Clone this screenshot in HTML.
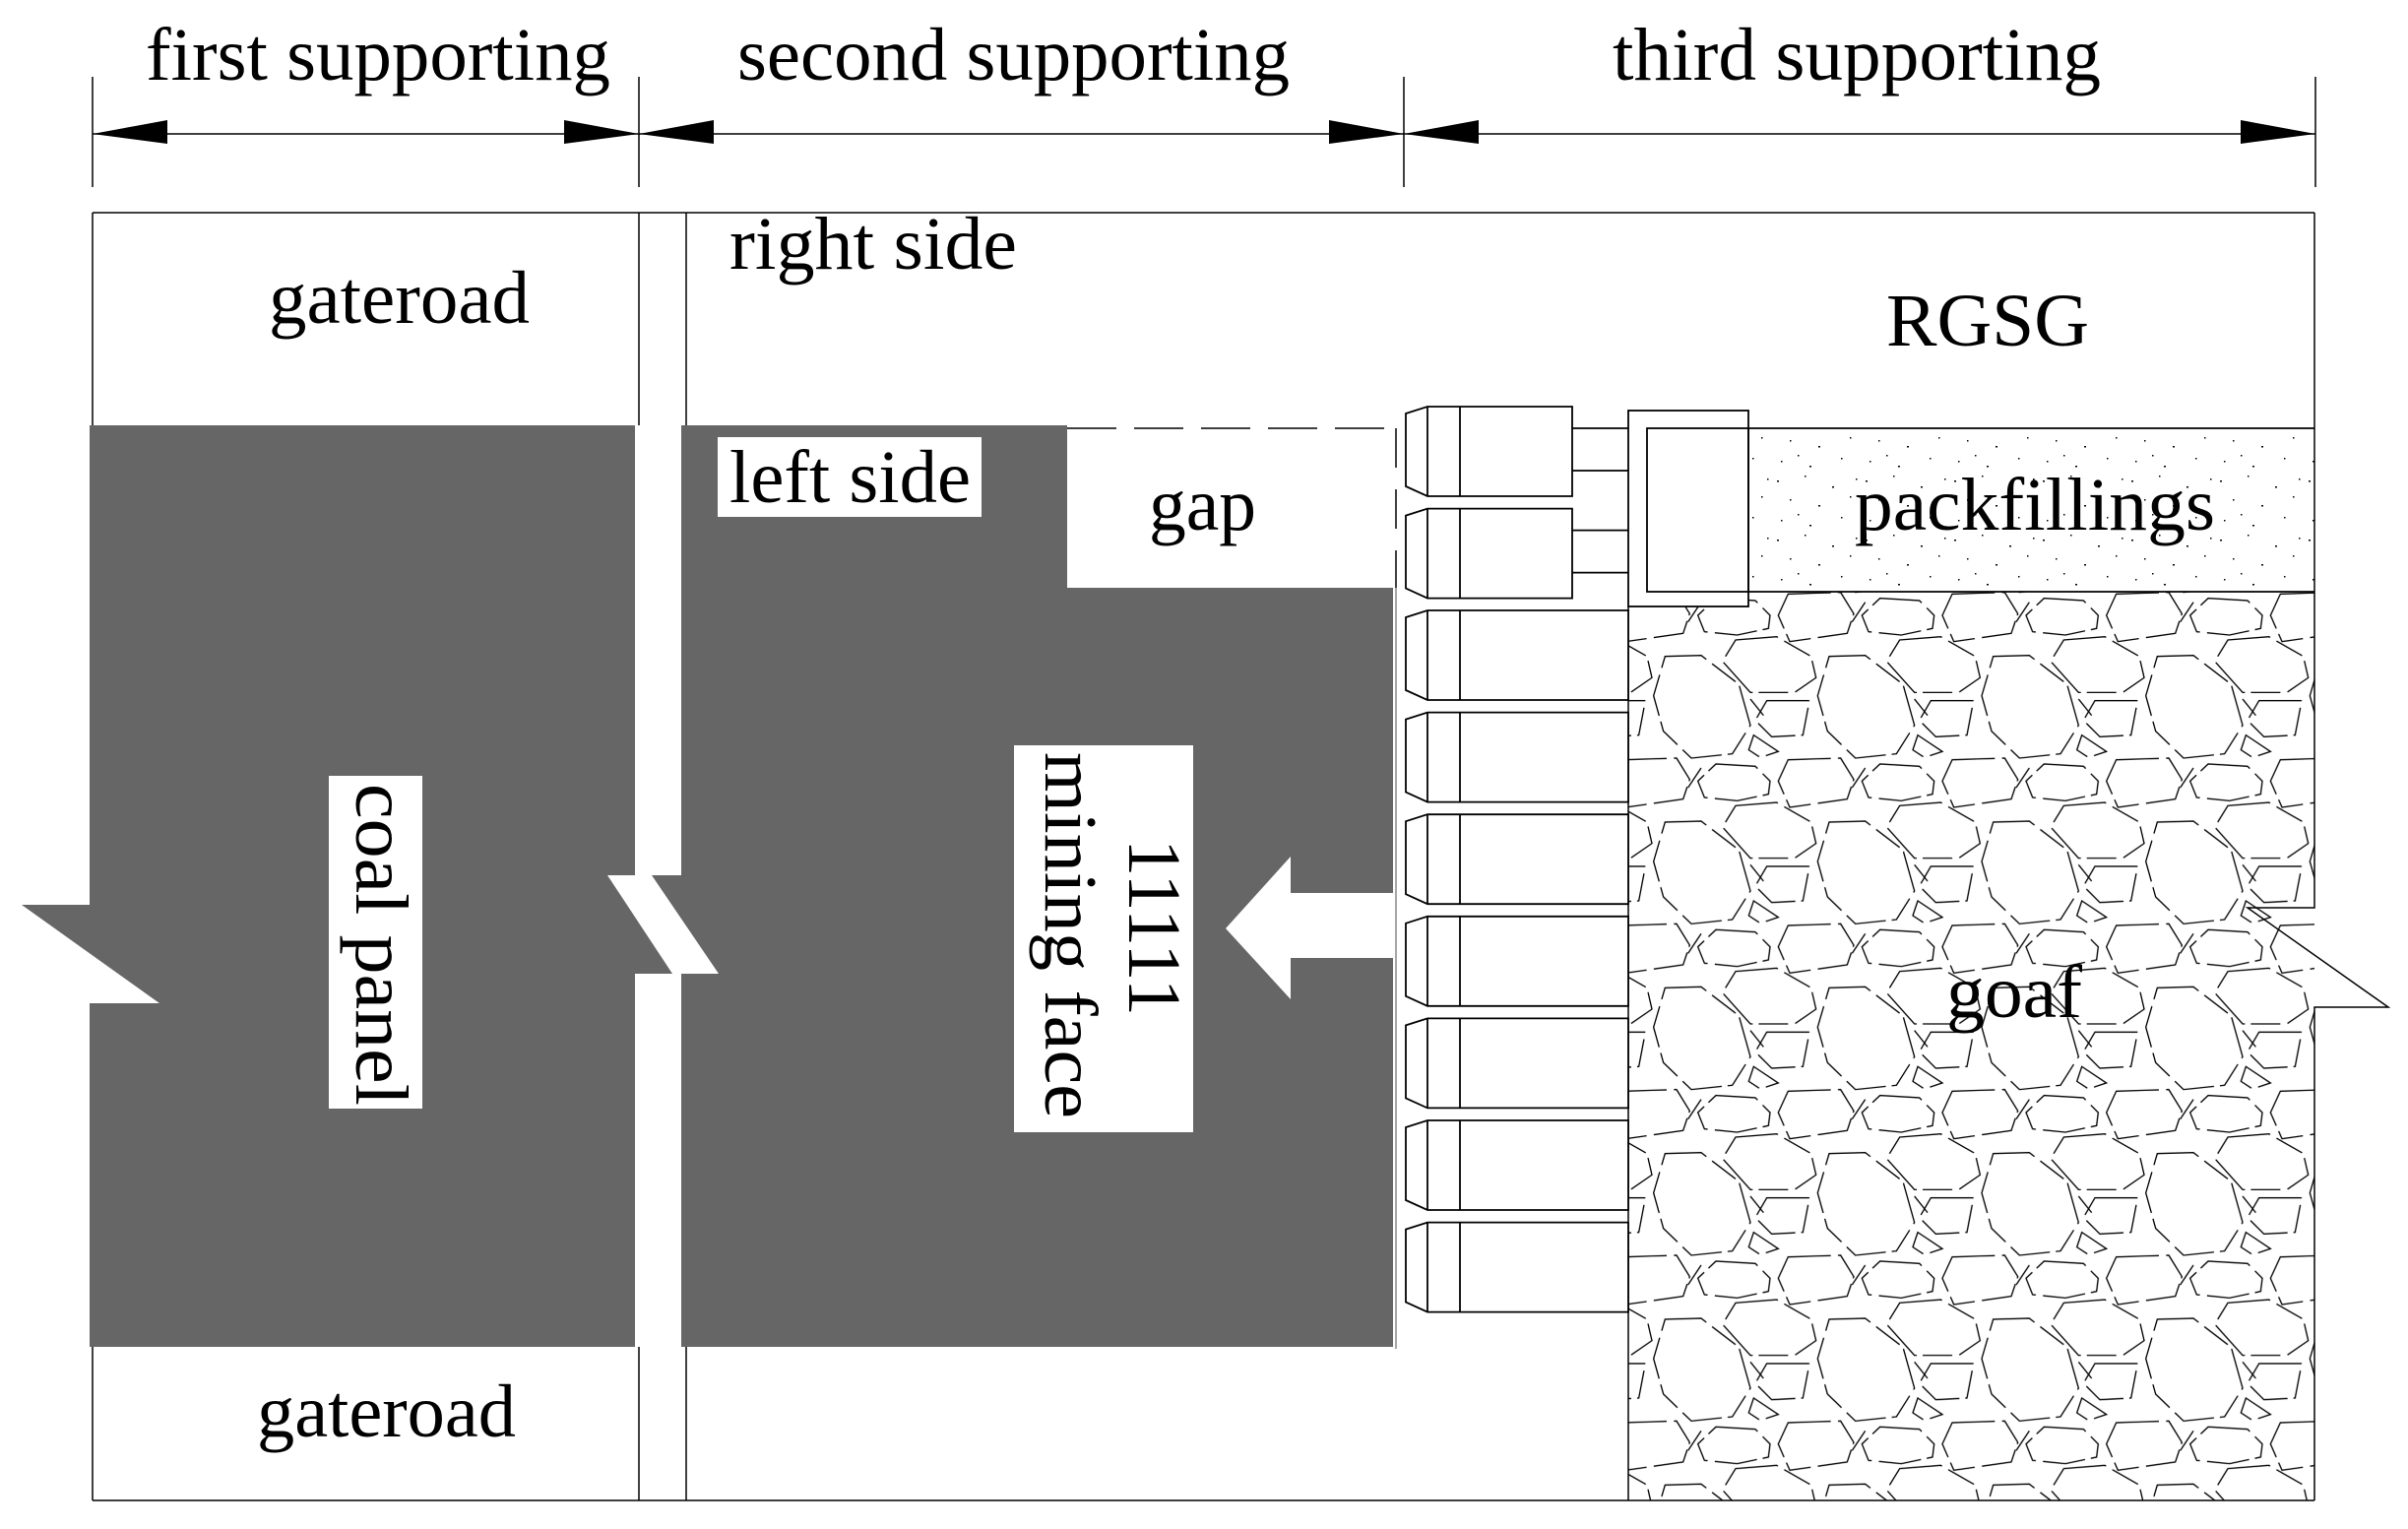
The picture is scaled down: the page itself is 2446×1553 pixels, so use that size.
<!DOCTYPE html>
<html><head><meta charset="utf-8"><style>html,body{margin:0;padding:0;background:#fff}svg{display:block}</style></head>
<body>
<svg xmlns="http://www.w3.org/2000/svg" xmlns:xlink="http://www.w3.org/1999/xlink" width="2446" height="1553" viewBox="0 0 2446 1553">
<defs>
<g id="cells" fill="none" stroke="#000" stroke-width="4" stroke-dasharray="130 22 90 18">
<polygon points="40,20 150,17 265,105 300,230 245,317 120,330 35,248 5,140"/>
<polygon points="255,-30 380,-40 485,20 500,85 435,130 300,130 215,35"/>
<polygon points="350,155 480,155 460,260 365,265 315,215"/>
<polygon points="415,335 575,330 615,395 595,455 420,480 385,400"/>
<polygon points="195,348 315,355 360,400 355,440 260,460 160,450 140,400"/>
<polygon points="310,260 385,310 330,328 295,305"/>
<line x1="150" y1="360" x2="110" y2="420"/>
<line x1="300" y1="150" x2="340" y2="200"/>
</g>
<g id="tile">
<use xlink:href="#cells"/>
<use xlink:href="#cells" x="500"/><use xlink:href="#cells" x="-500"/>
<use xlink:href="#cells" y="505"/><use xlink:href="#cells" y="-505"/>
<use xlink:href="#cells" x="500" y="505"/><use xlink:href="#cells" x="-500" y="505"/>
<use xlink:href="#cells" x="500" y="-505"/><use xlink:href="#cells" x="-500" y="-505"/>
</g>
<pattern id="goaf" patternUnits="userSpaceOnUse" x="1678" y="660" width="166.67" height="168.33">
<g transform="scale(0.33333)"><use xlink:href="#tile"/></g>
</pattern>
<pattern id="dots" patternUnits="userSpaceOnUse" width="90" height="60">
<g fill="#000">
<rect x="5" y="8" width="2" height="1.5"/><rect x="33" y="3" width="1.5" height="1.5"/><rect x="61" y="14" width="2" height="1.5"/>
<rect x="18" y="27" width="1.5" height="1.5"/><rect x="47" y="33" width="2" height="1.5"/><rect x="79" y="24" width="1.5" height="1.5"/>
<rect x="9" y="48" width="1.5" height="1.5"/><rect x="38" y="53" width="2" height="1.5"/><rect x="70" y="45" width="1.5" height="1.5"/>
<rect x="85" y="6" width="1.5" height="1.5"/><rect x="26" y="42" width="1.5" height="1.5"/>
</g>
</pattern>
</defs>

<g font-family="'Liberation Serif', serif" font-size="76" fill="#000">
<text x="148" y="81" textLength="472" lengthAdjust="spacingAndGlyphs">first supporting</text>
<text x="749" y="81" textLength="561" lengthAdjust="spacingAndGlyphs">second supporting</text>
<text x="1638" y="81" textLength="496" lengthAdjust="spacingAndGlyphs">third supporting</text>
</g>

<g stroke="#000" stroke-width="1.5">
<line x1="94" y1="136" x2="2352" y2="136"/>
<line x1="94" y1="78" x2="94" y2="190"/>
<line x1="649" y1="78" x2="649" y2="190"/>
<line x1="1426" y1="78" x2="1426" y2="190"/>
<line x1="2352" y1="78" x2="2352" y2="190"/>
</g>
<g fill="#000">
<polygon points="94,136 170,122 170,146"/>
<polygon points="649,136 573,122 573,146"/>
<polygon points="649,136 725,122 725,146"/>
<polygon points="1426,136 1350,122 1350,146"/>
<polygon points="1426,136 1502,122 1502,146"/>
<polygon points="2352,136 2276,122 2276,146"/>
</g>

<rect x="1654" y="601" width="697" height="923" fill="url(#goaf)"/>
<rect x="1776" y="435" width="575" height="166" fill="#fff"/>
<rect x="1776" y="435" width="575" height="166" fill="url(#dots)"/>
<rect x="1654" y="417" width="122" height="199" fill="#fff"/>

<g stroke="#000" stroke-width="1.5" fill="none">
<line x1="94" y1="216" x2="2351" y2="216"/>
<line x1="94" y1="1524" x2="2351" y2="1524"/>
<line x1="94" y1="216" x2="94" y2="432"/>
<line x1="94" y1="1368" x2="94" y2="1524"/>
<line x1="649" y1="216" x2="649" y2="432"/>
<line x1="697" y1="216" x2="697" y2="432"/>
<line x1="649" y1="1368" x2="649" y2="1524"/>
<line x1="697" y1="1368" x2="697" y2="1524"/>
<polyline points="2351,216 2351,922 2283,922 2426,1023 2351,1023 2351,1524"/>
<line x1="1654" y1="616" x2="1654" y2="1524"/>
</g>

<g fill="#666">
<polygon points="91,432 645,432 645,1368 91,1368 91,1019 162,1019 22,919 91,919"/>
<rect x="645" y="889" width="47" height="100"/>
<polygon points="692,432 1084,432 1084,597 1415,597 1415,1368 692,1368"/>
</g>
<polygon points="617,889 662,889 730,989 683,989" fill="#fff"/>

<g stroke="#000" stroke-width="1.5" fill="none">
<line x1="1084" y1="435" x2="1418" y2="435" stroke-dasharray="50 18"/>
<line x1="1418" y1="435" x2="1418" y2="597" stroke-dasharray="40 22"/>
<line x1="1418" y1="597" x2="1418" y2="1370" stroke="#888"/>
</g>

<rect x="729" y="444" width="268" height="81" fill="#fff"/>
<rect x="334" y="788" width="95" height="338" fill="#fff"/>
<rect x="1030" y="757" width="182" height="393" fill="#fff"/>

<polygon points="1245,943 1311,870 1311,907 1417,907 1417,973 1311,973 1311,1015" fill="#fff"/>

<g stroke="#000" stroke-width="1.8" fill="#fff">
<g id="u1">
<polygon points="1428,420 1450,413 1597,413 1597,504 1450,504 1428,494"/>
<line x1="1450" y1="413" x2="1450" y2="504"/><line x1="1483" y1="413" x2="1483" y2="504"/>
<line x1="1597" y1="435" x2="1654" y2="435"/><line x1="1597" y1="478" x2="1654" y2="478"/>
</g>
<use xlink:href="#u1" y="103.6"/>
<g id="u3">
<polygon points="1428,627 1450,620 1654,620 1654,711 1450,711 1428,701"/>
<line x1="1450" y1="620" x2="1450" y2="711"/><line x1="1483" y1="620" x2="1483" y2="711"/>
</g>
<use xlink:href="#u3" y="103.6"/><use xlink:href="#u3" y="207.2"/><use xlink:href="#u3" y="310.8"/>
<use xlink:href="#u3" y="414.4"/><use xlink:href="#u3" y="518"/><use xlink:href="#u3" y="621.6"/>
</g>

<g stroke="#000" stroke-width="1.8" fill="none">
<rect x="1654" y="417" width="122" height="199" fill="#fff"/>
<rect x="1673" y="435" width="103" height="166"/>
<line x1="1776" y1="435" x2="2351" y2="435"/>
<line x1="1776" y1="601" x2="2351" y2="601"/>
</g>

<g font-family="'Liberation Serif', serif" font-size="76" fill="#000">
<text x="741" y="273" textLength="292" lengthAdjust="spacingAndGlyphs">right side</text>
<text x="273" y="328" textLength="265" lengthAdjust="spacingAndGlyphs">gateroad</text>
<text x="1916" y="351" textLength="206" lengthAdjust="spacingAndGlyphs">RGSG</text>
<text x="741" y="510" textLength="245" lengthAdjust="spacingAndGlyphs">left side</text>
<text x="1167" y="538" textLength="109" lengthAdjust="spacingAndGlyphs">gap</text>
<text x="1884" y="538" textLength="366" lengthAdjust="spacingAndGlyphs">packfillings</text>
<text x="1977" y="1033" textLength="138" lengthAdjust="spacingAndGlyphs">goaf</text>
<text x="261" y="1459" textLength="263" lengthAdjust="spacingAndGlyphs">gateroad</text>
<text transform="translate(362,796) rotate(90)" textLength="327" lengthAdjust="spacingAndGlyphs">coal panel</text>
<text transform="translate(1147,852) rotate(90)" textLength="180" lengthAdjust="spacingAndGlyphs">11111</text>
<text transform="translate(1062,764) rotate(90)" textLength="372" lengthAdjust="spacingAndGlyphs">mining face</text>
</g>
</svg>
</body></html>
